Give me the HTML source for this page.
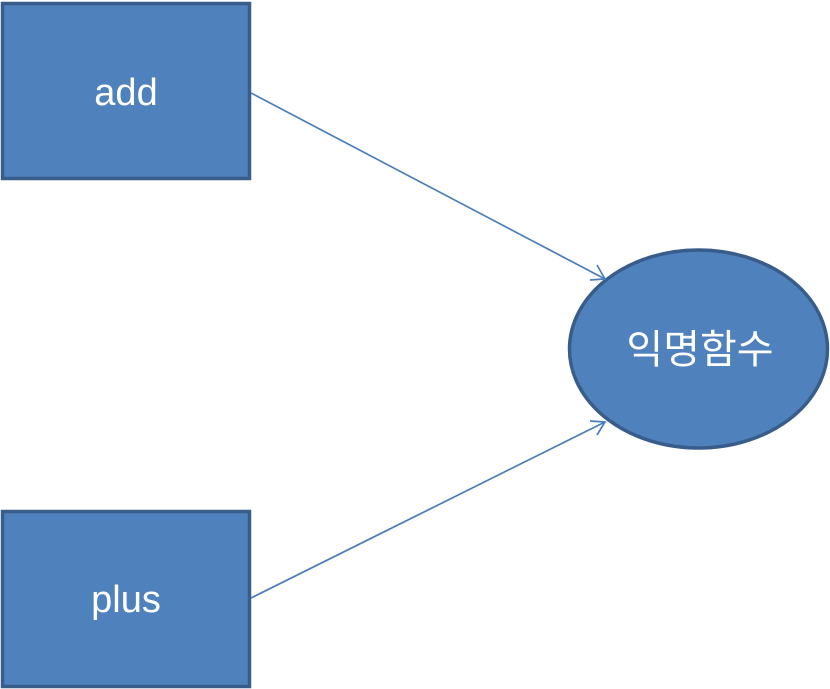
<!DOCTYPE html>
<html><head><meta charset="utf-8"><style>html,body{margin:0;padding:0;background:#fff;}svg{display:block}</style></head>
<body>
<svg width="830" height="689" viewBox="0 0 830 689" xmlns="http://www.w3.org/2000/svg">
<rect x="2.5" y="3.5" width="247" height="175" fill="#4F81BD" stroke="#385D8A" stroke-width="3.5"/>
<rect x="2.5" y="511.5" width="247" height="175" fill="#4F81BD" stroke="#385D8A" stroke-width="3.5"/>
<ellipse cx="698.5" cy="349" rx="129" ry="99" fill="#4F81BD" stroke="#385D8A" stroke-width="3.5"/>
<g stroke="#4A7EBB" stroke-width="1.7" fill="none">
<line x1="251" y1="93" x2="605" y2="279"/>
<polyline points="590,280 605,279 597,265"/>
<line x1="251" y1="598" x2="605" y2="422"/>
<polyline points="590,421 605,422 597,435"/>
</g>
<g fill="#fff" font-family="'Liberation Sans','Noto Sans CJK KR',sans-serif" text-anchor="middle">
<text x="126" y="105" font-size="38">add</text>
<text x="126" y="612" font-size="38">plus</text>
<text x="700" y="363" font-size="40">익명함수</text>
</g>
</svg>
</body></html>
